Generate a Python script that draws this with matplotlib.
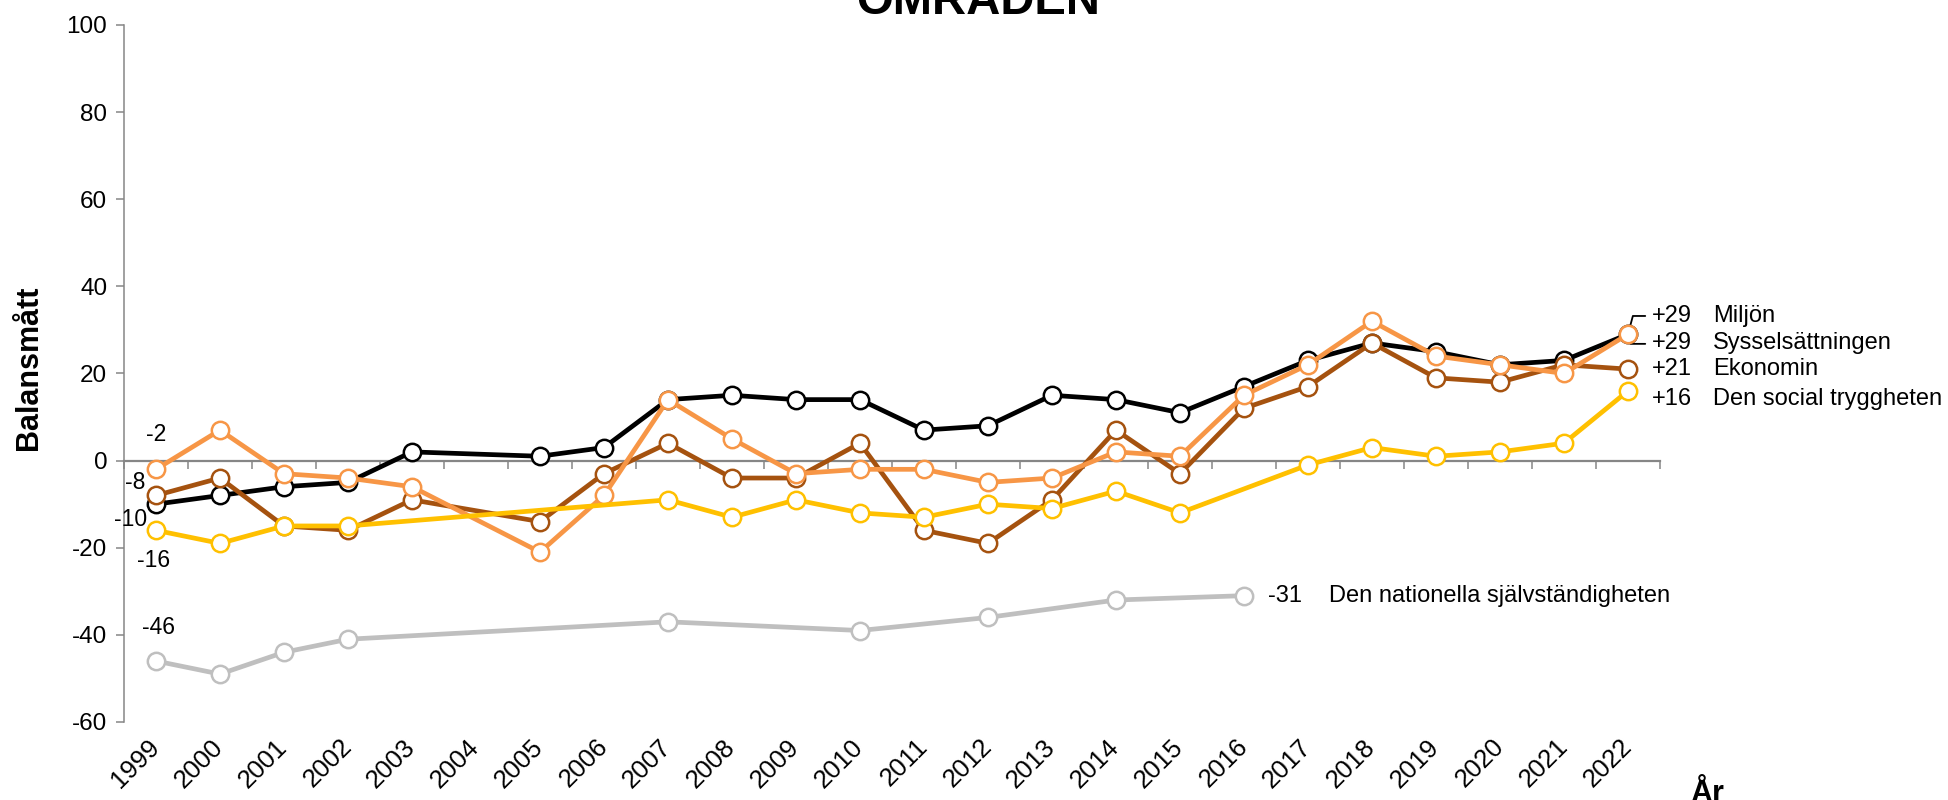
import numpy as np
import matplotlib
matplotlib.use("Agg")
import matplotlib.pyplot as plt
from matplotlib.transforms import ScaledTranslation

plt.rcParams['font.family'] = ['Liberation Sans', 'DejaVu Sans']
plt.rcParams['axes.unicode_minus'] = False

years = [str(y) for y in range(1999, 2023)]
nan = np.nan

# balansmått per område, nan = ingen mätning det året
miljon = [-10, -8, -6, -5, 2, nan, 1, 3, 14, 15, 14, 14, 7, 8, 15, 14, 11, 17, 23, 27, 25, 22, 23, 29]
syssel = [-2, 7, -3, -4, -6, nan, -21, -8, 14, 5, -3, -2, -2, -5, -4, 2, 1, 15, 22, 32, 24, 22, 20, 29]
ekonomi = [-8, -4, -15, -16, -9, nan, -14, -3, 4, -4, -4, 4, -16, -19, -9, 7, -3, 12, 17, 27, 19, 18, 22, 21]
social = [-16, -19, -15, -15, nan, nan, nan, nan, -9, -13, -9, -12, -13, -10, -11, -7, -12, nan, -1, 3, 1, 2, 4, 16]
nationell = [-46, -49, -44, -41, nan, nan, nan, nan, -37, nan, nan, -39, nan, -36, nan, -32, nan, -31,
             nan, nan, nan, nan, nan, nan]

series = [
    # data, colour, name, end label offset (pt), start label offset (pt), zorder
    (nationell, '#BFBFBF', 'Den nationella självständigheten', 0, (2, 24), 2),
    (miljon, '#000000', 'Miljön', 13, (-18, -11), 3),
    (ekonomi, '#A5520F', 'Ekonomin', 0, (-15, 9), 4),
    (syssel, '#F79646', 'Sysselsättningen', -6.5, (0, 25), 5),
    (social, '#FFC000', 'Den social tryggheten', -6, (-2, -22), 6),
]

fig = plt.figure(figsize=(19.49, 8), dpi=100)
ax = fig.add_axes([0.0636, 0.0975, 0.7881, 0.8713])

x = np.arange(len(years))
for vals, col, name, dy, start_off, z in series:
    v = np.array(vals, dtype=float)
    ok = ~np.isnan(v)
    ax.plot(x[ok], v[ok], color=col, lw=3.4, marker='o', ms=12.5, mfc='white',
            mec=col, mew=1.8, zorder=z, clip_on=False)
    # värde vid första året
    ax.annotate(f'{v[0]:.0f}', (x[0], v[0]), xytext=start_off, textcoords='offset points',
                ha='center', va='center', fontsize=16.5, zorder=10)
    # etikett vid sista mätningen
    last = np.where(ok)[0][-1]
    lv = v[last]
    ax.annotate(f'{lv:+.0f}' if lv > 0 else f'{lv:.0f}', (x[last], lv), xytext=(17.5, dy),
                textcoords='offset points', ha='left', va='center', fontsize=17)
    ax.annotate(name, (x[last], lv), xytext=(61, dy), textcoords='offset points',
                ha='left', va='center', fontsize=17)

# klammer mellan Miljön och Sysselsättningen (båda +29)
xe, ye = x[-1], miljon[-1]
ax.annotate('', (xe, ye), xytext=(xe + 0.27, ye + 4.2),
            arrowprops=dict(arrowstyle='-', color='black', lw=1.3, shrinkA=0, shrinkB=0,
                            connectionstyle='angle,angleA=0,angleB=75,rad=0'))
ax.annotate('', (xe, ye), xytext=(xe + 0.27, ye - 2.2),
            arrowprops=dict(arrowstyle='-', color='black', lw=1.3, shrinkA=0, shrinkB=0,
                            connectionstyle='angle,angleA=0,angleB=-75,rad=0'))

ax.set_xlim(-0.5, len(years) - 0.5)
ax.set_ylim(-60, 100)
ax.set_yticks(np.arange(-60, 101, 20))
ax.tick_params(axis='y', labelsize=17.5, length=6, width=1.1, color='#868686', pad=6)
ax.set_xticks(x)
ax.set_xticklabels(years, rotation=45, ha='right', fontsize=18.5)
ax.tick_params(axis='x', length=0, pad=9)
shift = ScaledTranslation(6 / 72, 0, fig.dpi_scale_trans)
for lab in ax.get_xticklabels():
    lab.set_transform(lab.get_transform() + shift)

for s in ['top', 'right', 'bottom']:
    ax.spines[s].set_visible(False)
ax.spines['left'].set_color('#868686')
ax.spines['left'].set_linewidth(1.1)

# nollinje med skiljestreck mellan åren
sec = ax.secondary_xaxis(60 / 160)
sec.set_xticks(np.arange(-0.5, len(years), 1))
sec.set_xticklabels([])
sec.tick_params(length=6, width=1.1, color='#868686')
sec.spines['bottom'].set_color('#868686')
sec.spines['bottom'].set_linewidth(1.6)

fig.text(978 / 1949, 1 - 14 / 800, 'OMRÅDEN', ha='center', va='baseline',
         fontsize=34, fontweight='bold')
fig.text(29 / 1949, 1 - 368 / 800, 'Balansmått', rotation=90, ha='center', va='center',
         fontsize=22, fontweight='bold')
fig.text(1690 / 1949, -2 / 800, 'År', ha='left', va='baseline', fontsize=22, fontweight='bold')

fig.savefig('out.png', dpi=100)
